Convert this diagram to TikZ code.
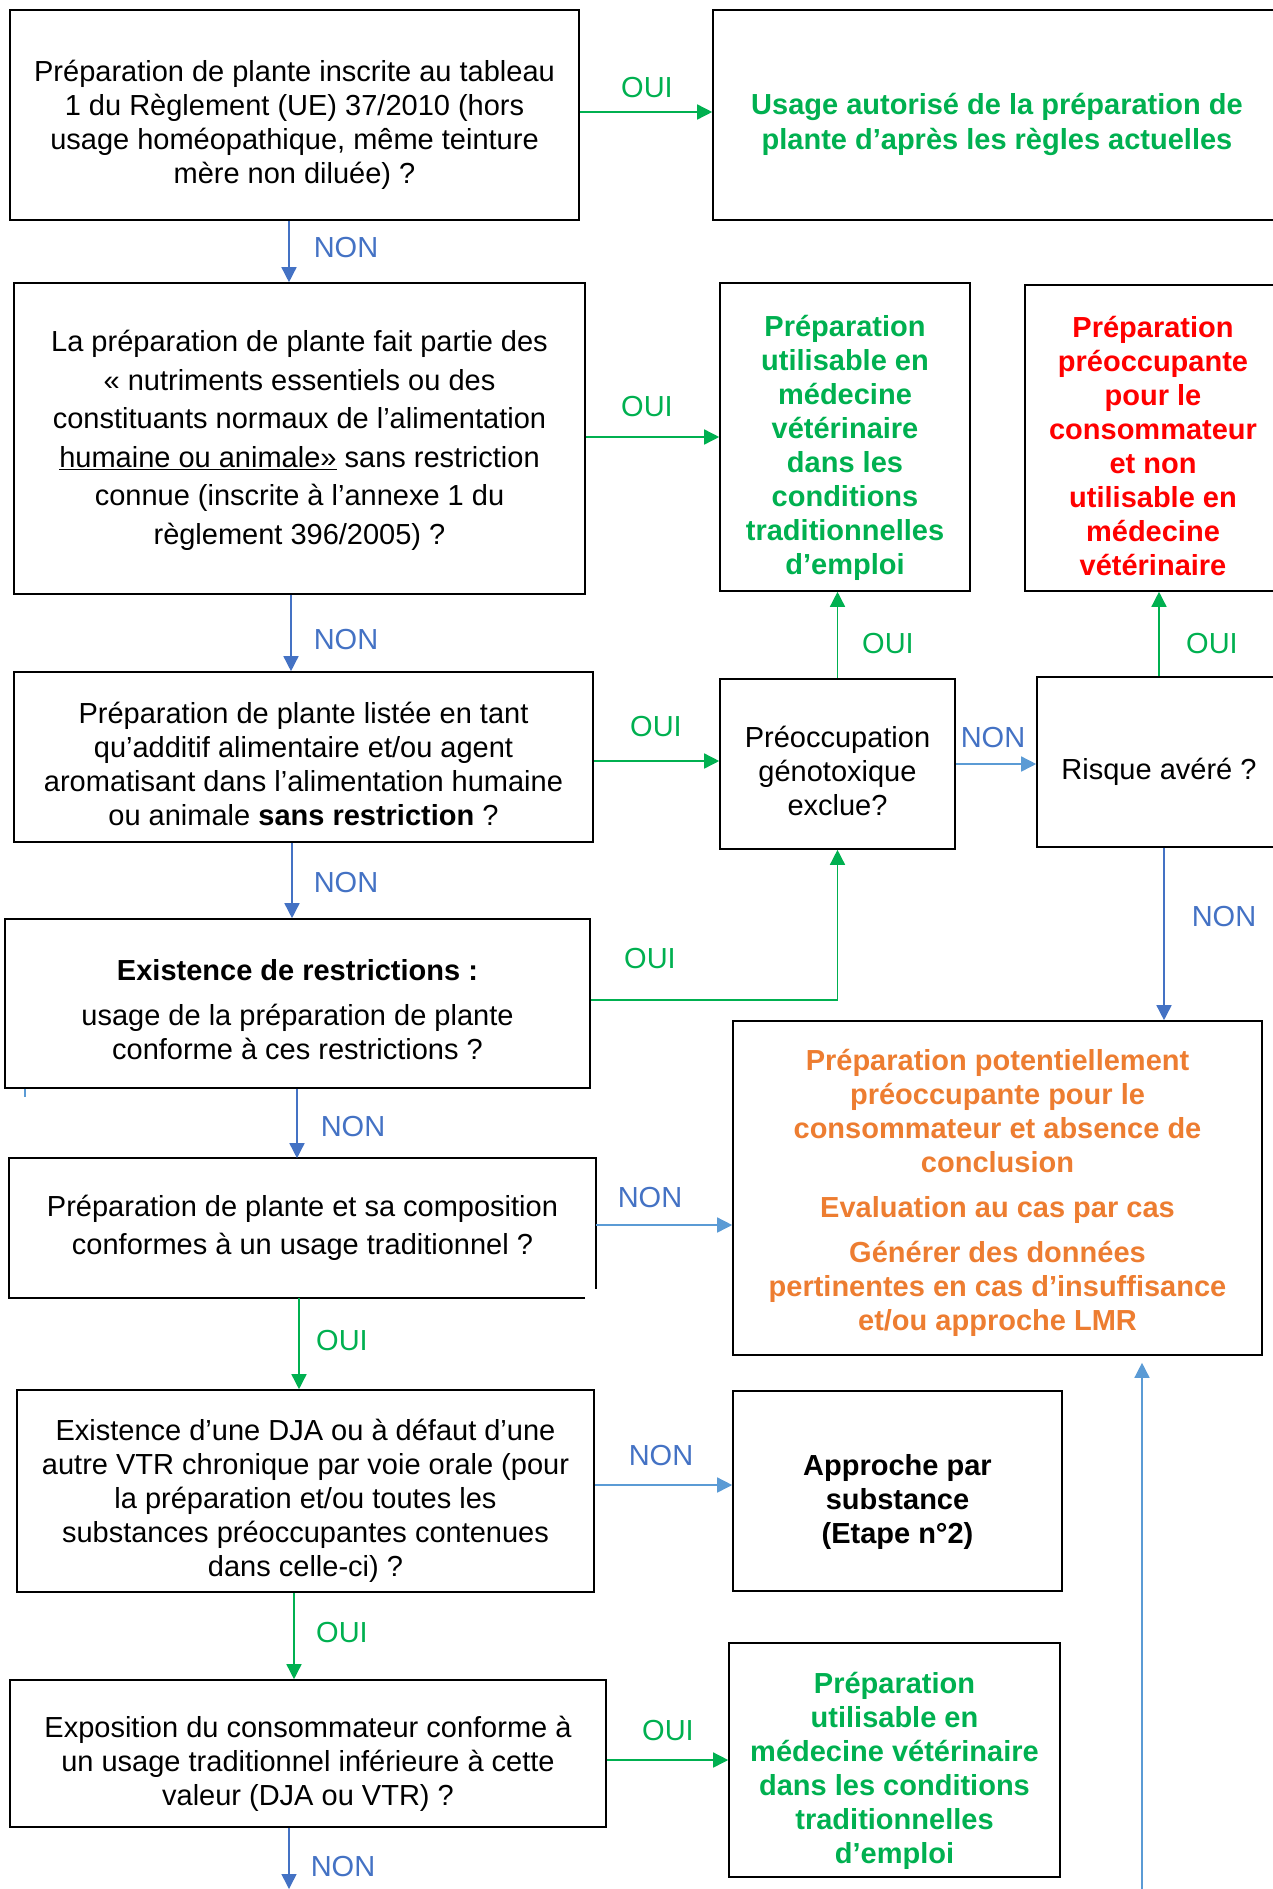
\documentclass[tikz,border=0pt]{standalone}
\usepackage{fontspec}
\setmainfont{Liberation Sans}
\usetikzlibrary{arrows.meta}

\definecolor{ouigreen}{HTML}{00B050}
\definecolor{nonblue}{HTML}{4472C4}
\definecolor{nonlight}{HTML}{5B9BD5}
\definecolor{riskred}{HTML}{FF0000}
\definecolor{evalorange}{HTML}{ED7D31}

% taller first line, pushes the text down in its box
\newcommand{\tdown}[1]{\rule{0pt}{#1}}

\tikzset{
  qbox/.style={draw, line width=1.6pt, align=center, inner sep=0pt,
    font=\fontsize{29}{34}\selectfont},
  okbox/.style={qbox, text=ouigreen, font=\fontsize{29}{34}\selectfont\bfseries},
  ouiarrow/.style={draw=ouigreen, line width=1.5pt, -{Triangle[length=15pt,width=15pt]}},
  nonarrow/.style={draw=nonblue, line width=1.5pt, -{Triangle[length=15pt,width=15pt]}},
  nonlight/.style={draw=nonlight, line width=1.5pt, -{Triangle[length=15pt,width=15pt]}},
  ouilbl/.style={text=ouigreen, inner sep=0pt, font=\fontsize{29}{34}\selectfont},
  nonlbl/.style={text=nonblue, inner sep=0pt, font=\fontsize{29}{34}\selectfont},
}

\begin{document}
\begin{tikzpicture}[x=1pt,y=-1pt]
    \useasboundingbox (0,0) rectangle (1272,1889);

    % Questions (left column)
    \node[qbox, minimum width=569pt, minimum height=210pt] (q1) at (294.5,115)
      {\tdown{41pt}Préparation de plante inscrite au tableau\\1 du Règlement (UE) 37/2010 (hors\\usage homéopathique, même teinture\\mère non diluée) ?};
    \node[qbox, minimum width=571pt, minimum height=311pt, font=\fontsize{29}{38.5}\selectfont] (q2) at (299.5,438.5)
      {\tdown{25pt}La préparation de plante fait partie des\\« nutriments essentiels ou des\\constituants normaux de l’alimentation\\\underline{humaine ou animale»} sans restriction\\connue (inscrite à l’annexe 1 du\\règlement 396/2005) ?};
    \node[qbox, minimum width=579pt, minimum height=170pt] (q3) at (303.5,757)
      {\tdown{35pt}Préparation de plante listée en tant\\qu’additif alimentaire et/ou agent\\aromatisant dans l’alimentation humaine\\ou animale \textbf{sans restriction} ?};
    \node[qbox, minimum width=585pt, minimum height=169pt] (q4) at (297.5,1003.5)
      {\tdown{33pt}\textbf{Existence de restrictions :}\\[11pt]usage de la préparation de plante\\conforme à ces restrictions ?};
    \node[qbox, draw=none, minimum width=585pt, minimum height=138pt, font=\fontsize{29}{38.5}\selectfont] (q5) at (302.5,1228)
      {Préparation de plante et sa composition\\conformes à un usage traditionnel ?};
    \node[qbox, minimum width=577pt, minimum height=202pt] (q6) at (305.5,1491)
      {\tdown{41pt}Existence d’une DJA ou à défaut d’une\\autre VTR chronique par voie orale (pour\\la préparation et/ou toutes les\\substances préoccupantes contenues\\dans celle-ci) ?};
    \node[qbox, minimum width=596pt, minimum height=147pt] (q7) at (308,1753.5)
      {\tdown{41pt}Exposition du consommateur conforme à\\un usage traditionnel inférieure à cette\\valeur (DJA ou VTR) ?};

    % q5 border, open at the lower right corner
    \draw[line width=1.6pt] (q5.south -| 585,0) -- (q5.south west) -- (q5.north west)
      -- (q5.north east) -- (q5.east |- 0,1289);

    % Right column
    \node[okbox, minimum width=568pt, minimum height=210pt] (ok1) at (997,115)
      {\tdown{41pt}Usage autorisé de la préparation de\\[1pt]plante d’après les règles actuelles};
    \node[okbox, minimum width=250pt, minimum height=308pt] (vet1) at (845,437)
      {\tdown{43pt}Préparation\\utilisable en\\médecine\\vétérinaire\\dans les\\conditions\\traditionnelles\\d’emploi};
    \node[okbox, text=riskred, minimum width=256pt, minimum height=306pt] (risk) at (1153,438)
      {\tdown{37pt}Préparation\\préoccupante\\pour le\\consommateur\\et non\\utilisable en\\médecine\\vétérinaire};
    \node[qbox, minimum width=235pt, minimum height=170pt] (geno) at (837.5,764)
      {\tdown{35pt}Préoccupation\\génotoxique\\exclue?};
    \node[qbox, minimum width=244pt, minimum height=170pt] (avere) at (1159,762)
      {\tdown{41pt}Risque avéré ?};
    \node[okbox, text=evalorange, minimum width=529pt, minimum height=334pt] (eval) at (997.5,1188)
      {\tdown{31pt}Préparation potentiellement\\préoccupante pour le\\consommateur et absence de\\conclusion\\[11pt]Evaluation au cas par cas\\[11pt]Générer des données\\pertinentes en cas d’insuffisance\\et/ou approche LMR};
    \node[qbox, font=\fontsize{29}{34}\selectfont\bfseries, minimum width=329pt, minimum height=200pt] (step2) at (897.5,1491)
      {\tdown{43pt}Approche par\\substance\\(Etape n°2)};
    \node[okbox, minimum width=331pt, minimum height=234pt] (vet2) at (894.5,1760)
      {\tdown{43pt}Préparation\\utilisable en\\médecine vétérinaire\\dans les conditions\\traditionnelles\\d’emploi};

    % Free ends at the bottom edge
    \coordinate (outq7) at (289,1889);
    \coordinate (upin) at (1142,1889);

    % OUI connectors
    \draw[ouiarrow] (q1.east |- 0,112) -- (ok1.west |- 0,112);
    \draw[ouiarrow] (q2.east |- 0,437) -- (vet1.west |- 0,437);
    \draw[ouiarrow] (q3.east |- 0,761) -- (geno.west |- 0,761);
    \draw[ouiarrow] (geno.north) -- (geno.north |- vet1.south);
    \draw[ouiarrow] (avere.north) -- (avere.north |- risk.south);
    \draw[ouiarrow] (q4.east |- 0,1000) -| (geno.south);
    \draw[ouiarrow] (q5.south -| 299,0) -- (q6.north -| 299,0);
    \draw[ouiarrow] (q6.south -| 294,0) -- (q7.north -| 294,0);
    \draw[ouiarrow] (q7.east |- 0,1760) -- (vet2.west |- 0,1760);

    % NON connectors
    \draw[nonarrow] (q1.south -| 289,0) -- (q2.north -| 289,0);
    \draw[nonarrow] (q2.south -| 291,0) -- (q3.north -| 291,0);
    \draw[nonarrow] (q3.south -| 292,0) -- (q4.north -| 292,0);
    \draw[nonarrow] (q4.south -| 297,0) -- (q5.north -| 297,0);
    \draw[nonarrow] (avere.south -| 1164,0) -- (eval.north -| 1164,0);
    \draw[nonarrow] (q7.south -| outq7) -- (outq7);
    \draw[nonlight] (geno.east) -- (avere.west |- geno.east);
    \draw[nonlight] (q5.east |- 0,1225) -- (eval.west |- 0,1225);
    \draw[nonlight] (q6.east |- 0,1485) -- (step2.west |- 0,1485);
    \draw[nonlight, shorten >=7pt] (upin) -- (upin |- eval.south);
    \draw[draw=nonlight, line width=1.5pt] (q4.south -| 25,0) -- ++(0,8);

    % Labels
    \node[ouilbl] (l1) at (647,88) {OUI};
    \node[nonlbl] (l2) at (346,248) {NON};
    \node[ouilbl] (l3) at (647,407) {OUI};
    \node[nonlbl] (l4) at (346,640) {NON};
    \node[ouilbl] (l5) at (656,727) {OUI};
    \node[nonlbl] (l6) at (993,738) {NON};
    \node[ouilbl] (l7) at (888,644) {OUI};
    \node[ouilbl] (l8) at (1212,644) {OUI};
    \node[nonlbl] (l9) at (1224,917) {NON};
    \node[nonlbl] (l18) at (346,883) {NON};
    \node[ouilbl] (l10) at (650,959) {OUI};
    \node[nonlbl] (l11) at (353,1127) {NON};
    \node[nonlbl] (l12) at (650,1198) {NON};
    \node[ouilbl] (l13) at (342,1341) {OUI};
    \node[nonlbl] (l14) at (661,1455) {NON};
    \node[ouilbl] (l15) at (342,1632) {OUI};
    \node[ouilbl] (l16) at (668,1730) {OUI};
    \node[nonlbl] (l17) at (343,1866) {NON};
\end{tikzpicture}
\end{document}
